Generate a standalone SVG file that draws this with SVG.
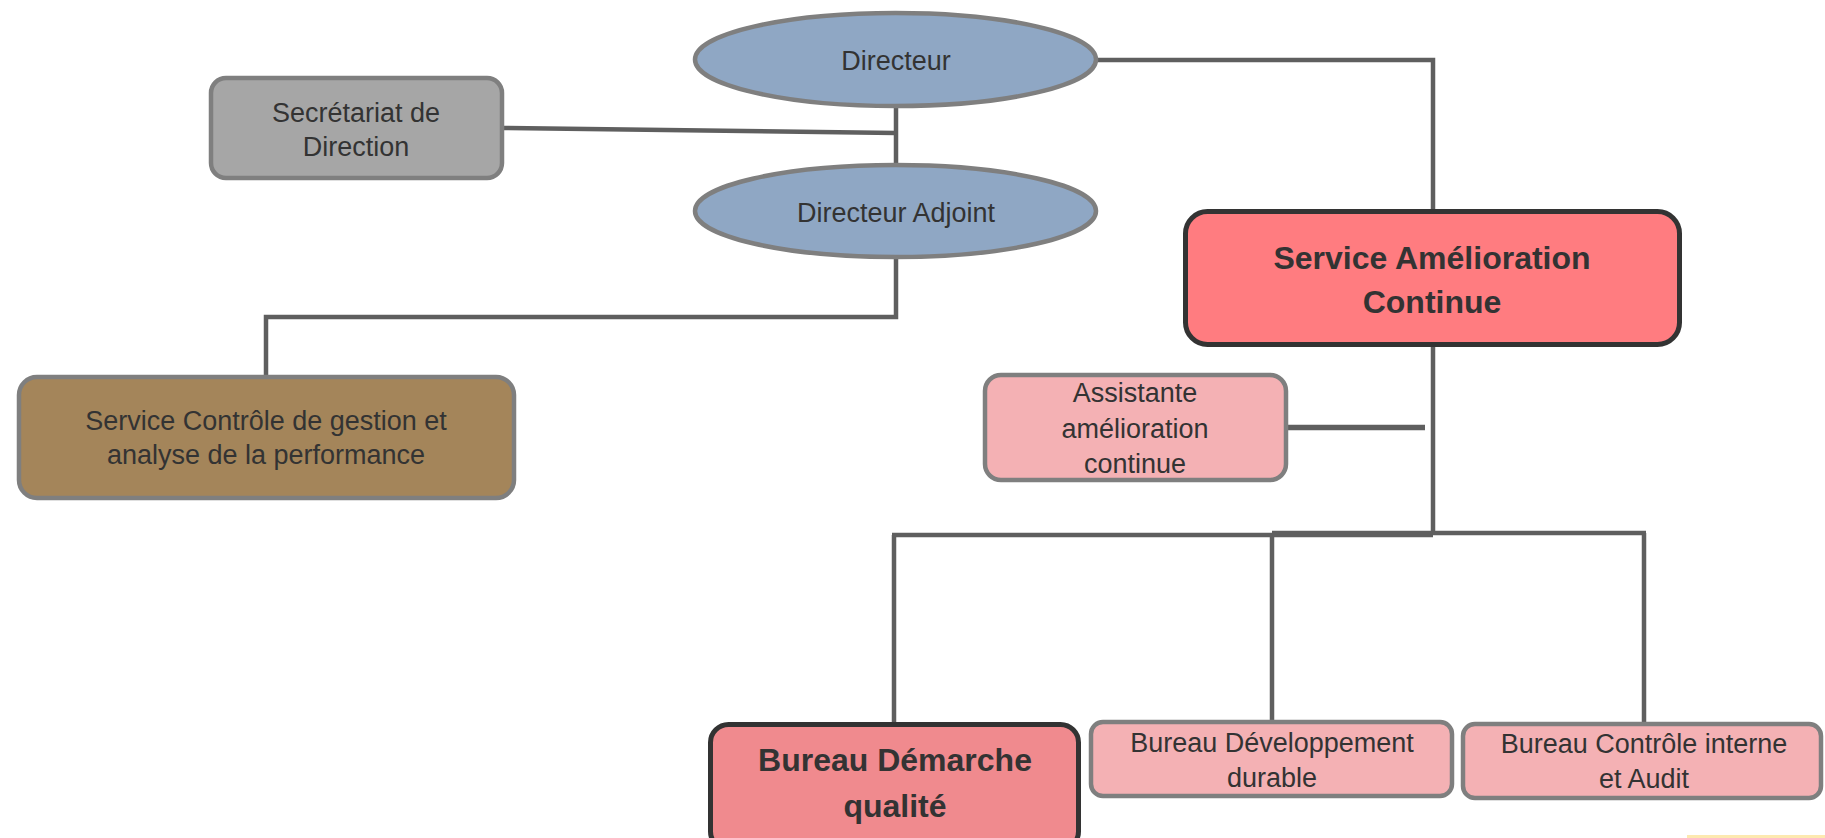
<svg xmlns="http://www.w3.org/2000/svg" width="1825" height="838" viewBox="0 0 1825 838">
<style>
.t{font-family:"Liberation Sans",Arial,sans-serif;font-size:27px;fill:#333;text-anchor:middle}
.b{font-family:"Liberation Sans",Arial,sans-serif;font-size:32px;font-weight:bold;fill:#333;text-anchor:middle}
.ell{fill:#8fa7c4;stroke:#7f7f7f;stroke-width:4.5}
.grey{stroke:#7f7f7f;stroke-width:4.5}
.dark{stroke:#333;stroke-width:5}
.pink{fill:#f4b1b4}
.conn{fill:none;stroke:#5f5f5f;stroke-width:4.5}
</style>
<rect width="1825" height="838" fill="#fff"/>
<g id="connectors" class="conn">
<path d="M896 106V165"/>
<path d="M504 128L896 133"/>
<path d="M896 257V317H266V377"/>
<path d="M1096 60H1433V212"/>
<path d="M1433 345V535"/>
<path d="M892 535H1433"/>
<path d="M1272 533H1646"/>
<path d="M894 535V725"/>
<path d="M1272 533V722"/>
<path d="M1644 533V724"/>
<path d="M1288 427.5H1425" stroke-width="5.5"/>
</g>
<g id="directeur">
<ellipse class="ell" cx="895.5" cy="59.5" rx="200.5" ry="46.5"/>
<text class="t" x="896" y="70">Directeur</text>
</g>
<g id="directeur-adjoint">
<ellipse class="ell" cx="895.5" cy="211" rx="200.5" ry="46"/>
<text class="t" x="896" y="222">Directeur Adjoint</text>
</g>
<g id="secretariat">
<rect class="grey" x="211" y="78" width="291" height="100" rx="15" fill="#a6a6a6"/>
<text class="t" x="356" y="122">Secrétariat de</text>
<text class="t" x="356" y="156">Direction</text>
</g>
<g id="service-controle">
<rect class="grey" x="19" y="377" width="495" height="121" rx="18" fill="#a4855a"/>
<text class="t" x="266" y="430">Service Contrôle de gestion et</text>
<text class="t" x="266" y="464">analyse de la performance</text>
</g>
<g id="service-amelioration">
<rect class="dark" x="1185.5" y="211.5" width="494" height="133" rx="22" fill="#ff7c80"/>
<text class="b" x="1432" y="269">Service Amélioration</text>
<text class="b" x="1432" y="313">Continue</text>
</g>
<g id="assistante">
<rect class="grey pink" x="985" y="375" width="301" height="105" rx="16"/>
<text class="t" x="1135" y="402">Assistante</text>
<text class="t" x="1135" y="438">amélioration</text>
<text class="t" x="1135" y="473">continue</text>
</g>
<g id="bureau-demarche">
<rect class="dark" x="710.5" y="724.5" width="368" height="125" rx="18" fill="#f08a8e"/>
<text class="b" x="895" y="771">Bureau Démarche</text>
<text class="b" x="895" y="817">qualité</text>
</g>
<g id="bureau-developpement">
<rect class="grey pink" x="1091" y="722" width="361" height="74" rx="12"/>
<text class="t" x="1272" y="752">Bureau Développement</text>
<text class="t" x="1272" y="787">durable</text>
</g>
<g id="bureau-controle">
<rect class="grey pink" x="1463" y="724" width="358" height="74" rx="12"/>
<text class="t" x="1644" y="753">Bureau Contrôle interne</text>
<text class="t" x="1644" y="788">et Audit</text>
</g>
<rect x="1687" y="835" width="138" height="3" fill="#fde9b0"/>
</svg>
